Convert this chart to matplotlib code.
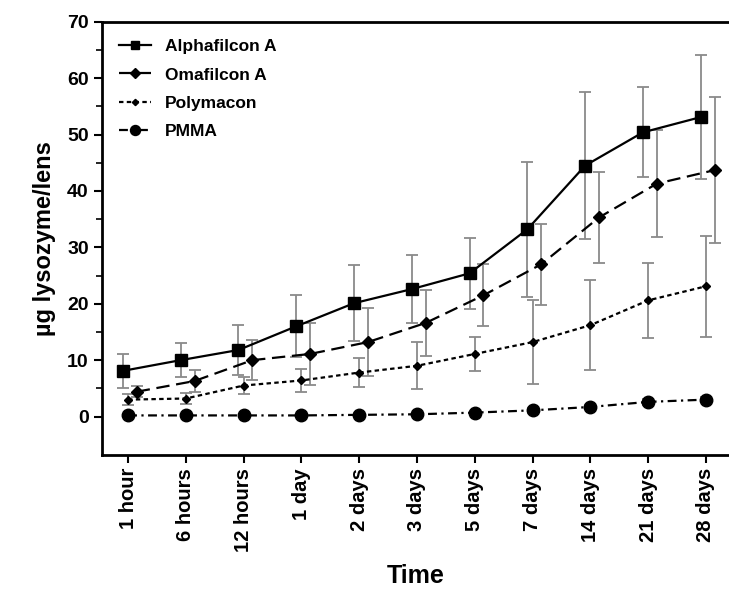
import numpy as np
import matplotlib.pyplot as plt

plt.rcParams['font.family'] = ['Liberation Sans', 'DejaVu Sans']
plt.rcParams['font.weight'] = 'bold'

time_labels = ['1 hour', '6 hours', '12 hours', '1 day', '2 days', '3 days',
               '5 days', '7 days', '14 days', '21 days', '28 days']

alphafilcon = [8.1, 10.0, 11.8, 16.0, 20.1, 22.6, 25.4, 33.2, 44.5, 50.4, 53.1]
alphafilcon_err = [3.0, 3.0, 4.4, 5.5, 6.7, 6.0, 6.3, 12.0, 13.0, 8.0, 11.0]

omafilcon = [4.4, 6.3, 10.0, 11.1, 13.2, 16.6, 21.5, 27.0, 35.3, 41.3, 43.7]
omafilcon_err = [1.0, 2.0, 3.6, 5.5, 6.0, 5.8, 5.5, 7.2, 8.0, 9.5, 13.0]

polymacon = [3.0, 3.2, 5.5, 6.4, 7.8, 9.0, 11.1, 13.2, 16.2, 20.6, 23.1]
polymacon_err = [1.0, 1.0, 1.5, 2.0, 2.6, 4.2, 3.0, 7.5, 8.0, 6.6, 9.0]

pmma = [0.2, 0.2, 0.2, 0.2, 0.3, 0.4, 0.7, 1.1, 1.7, 2.6, 3.0]
pmma_err = [0.3, 0.3, 0.3, 0.3, 0.3, 0.3, 0.3, 0.4, 0.4, 0.5, 0.5]

x = np.arange(len(time_labels))

fig = plt.figure(figsize=(7.29, 5.90), dpi=100)
ax = fig.add_axes([0.14, 0.229, 0.86, 0.734])

err_kw = dict(ecolor='#8a8a8a', elinewidth=1.3, capsize=4, capthick=1.3)

c1 = ax.errorbar(x - 0.09, alphafilcon, yerr=alphafilcon_err, color='black', ls='-',
                 lw=1.6, marker='s', ms=8, label='Alphafilcon A', **err_kw)
c2 = ax.errorbar(x + 0.15, omafilcon, yerr=omafilcon_err, color='black', ls=(0, (6, 3)),
                 lw=1.6, marker='D', ms=6, label='Omafilcon A', **err_kw)
c3 = ax.errorbar(x, polymacon, yerr=polymacon_err, color='black', ls=(0, (2, 1.5)),
                 lw=1.6, marker='D', ms=4, label='Polymacon', **err_kw)
c4 = ax.errorbar(x, pmma, yerr=pmma_err, color='black', ls=(0, (4, 2, 1, 2)),
                 lw=1.6, marker='o', ms=9, label='PMMA', **err_kw)

ax.set_xlim(-0.45, 10.4)
ax.set_ylim(-6.8, 70)
ax.set_yticks(np.arange(0, 71, 10))
ax.set_yticks(np.arange(5, 70, 10), minor=True)
ax.set_xticks(x)
ax.set_xticklabels(time_labels, rotation=90, fontsize=14.5, fontweight='bold')
ax.tick_params(axis='y', labelsize=14, width=1.5, length=6)
ax.tick_params(axis='y', which='minor', width=1.2, length=4)
ax.tick_params(axis='x', width=1.5, length=6)
for lbl in ax.get_yticklabels():
    lbl.set_fontweight('bold')

ax.spines['right'].set_visible(False)
for side in ['left', 'bottom', 'top']:
    ax.spines[side].set_linewidth(2)

ax.set_xlabel('Time', fontsize=18, fontweight='bold', labelpad=9)
ax.set_ylabel('µg lysozyme/lens', fontsize=17, fontweight='bold', labelpad=8)

handles = [c[0] for c in (c1, c2, c3, c4)]
labels = ['Alphafilcon A', 'Omafilcon A', 'Polymacon', 'PMMA']
ax.legend(handles, labels, loc='upper left', frameon=False, handlelength=1.8,
          borderaxespad=0.6, labelspacing=0.75, markerscale=0.8,
          prop={'weight': 'bold', 'size': 12.5})

fig.savefig('out.png', dpi=100)
